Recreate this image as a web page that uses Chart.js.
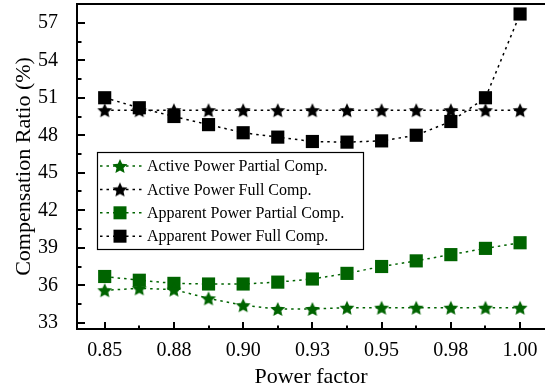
<!DOCTYPE html>
<html>
<head>
<meta charset="utf-8">
<script src="https://cdn.jsdelivr.net/npm/chart.js@4.4.1/dist/chart.umd.min.js"></script>
<style>
  html, body { margin: 0; padding: 0; background: #ffffff; overflow: hidden; }
  canvas { display: block; }
</style>
</head>
<body>
<canvas id="chart" width="545" height="392"></canvas>
<script>
// Power factor sweep and compensation ratios (%)
const powerFactor = [0.85, 0.8625, 0.875, 0.8875, 0.9, 0.9125, 0.925, 0.9375, 0.95, 0.9625, 0.975, 0.9875, 1.0];
const activePartial = [35.6, 35.75, 35.65, 34.95, 34.4, 34.1, 34.1, 34.2, 34.2, 34.2, 34.2, 34.2, 34.2];
const activeFull = [50.0, 50.0, 50.0, 50.0, 50.0, 50.0, 50.0, 50.0, 50.0, 50.0, 50.0, 50.0, 50.0];
const apparentPartial = [36.7, 36.4, 36.15, 36.1, 36.1, 36.25, 36.5, 36.95, 37.5, 37.95, 38.45, 38.95, 39.4];
const apparentFull = [51.0, 50.2, 49.5, 48.85, 48.2, 47.85, 47.5, 47.45, 47.55, 48.0, 49.1, 51.0, 57.7];

const seriesNames = [
  'Active Power Partial Comp.',
  'Active Power Full Comp.',
  'Apparent Power Partial Comp.',
  'Apparent Power Full Comp.'
];

const xTickValues = [0.85, 0.875, 0.9, 0.925, 0.95, 0.975, 1.0];
const xTickLabels = ['0.85', '0.88', '0.90', '0.93', '0.95', '0.98', '1.00'];
const yTickValues = [33, 36, 39, 42, 45, 48, 51, 54, 57];

const GREEN = '#006400';
const BLACK = '#000000';
const SERIF = "'Liberation Serif', 'Times New Roman', serif";

// Filled five-point star used as a point marker
function makeStar(color, R) {
  const size = Math.ceil(2 * R + 2);
  const c = document.createElement('canvas');
  c.width = size; c.height = size;
  const g = c.getContext('2d');
  const cx = size / 2, cy = size / 2 + R * 0.1;
  const r = R * 0.47;
  g.beginPath();
  for (let i = 0; i < 10; i++) {
    const rad = i % 2 === 0 ? R : r;
    const a = -Math.PI / 2 + i * Math.PI / 5;
    const px = cx + rad * Math.cos(a), py = cy + rad * Math.sin(a);
    if (i === 0) g.moveTo(px, py); else g.lineTo(px, py);
  }
  g.closePath();
  g.fillStyle = color;
  g.fill();
  return c;
}

const greenStar = makeStar(GREEN, 7.8);
const blackStar = makeStar(BLACK, 7.8);

function pairs(values) {
  return powerFactor.map((x, i) => ({ x: x, y: values[i] }));
}

function series(label, values, color, marker) {
  return {
    label: label,
    data: pairs(values),
    borderColor: color,
    backgroundColor: color,
    borderWidth: 1.5,
    borderDash: [2.5, 4],
    pointStyle: marker,
    pointRadius: 9.3,
    pointHoverRadius: 9.3,
    pointBorderWidth: 0,
    pointBackgroundColor: color,
    pointBorderColor: color,
    fill: false,
    tension: 0
  };
}

// Inward major/minor ticks plus the top frame line
const frameTicks = {
  id: 'frameTicks',
  afterDraw(chart) {
    const { ctx, chartArea: ca } = chart;
    const xs = chart.scales.x, ys = chart.scales.y;
    ctx.save();
    ctx.setLineDash([]);
    ctx.strokeStyle = '#000';
    ctx.lineWidth = 2;
    ctx.beginPath();
    yTickValues.forEach(v => {
      const py = Math.round(ys.getPixelForValue(v));
      ctx.moveTo(ca.left, py); ctx.lineTo(ca.left + 8, py);
      const m = v + 1.5;
      if (m < ys.max) {
        const pm = Math.round(ys.getPixelForValue(m));
        ctx.moveTo(ca.left, pm); ctx.lineTo(ca.left + 4.5, pm);
      }
    });
    xTickValues.forEach(v => {
      const px = Math.round(xs.getPixelForValue(v));
      ctx.moveTo(px, ca.bottom); ctx.lineTo(px, ca.bottom - 7);
      const m = v + 0.0125;
      if (m < xs.max) {
        const pm = Math.round(xs.getPixelForValue(m));
        ctx.moveTo(pm, ca.bottom); ctx.lineTo(pm, ca.bottom - 3.5);
      }
    });
    ctx.stroke();

    // top edge of the frame
    ctx.beginPath();
    ctx.lineWidth = 2.2;
    ctx.moveTo(ca.left - 1, ca.top);
    ctx.lineTo(chart.width, ca.top);
    ctx.stroke();
    ctx.restore();
  }
};

// Boxed legend inside the plot area
const legendBox = {
  id: 'legendBox',
  afterDraw(chart) {
    const { ctx, chartArea: ca } = chart;
    const left = ca.left + 20, top = ca.top + 148, w = 266, h = 97;
    const rowH = 23.4, firstRow = top + 14;
    ctx.save();
    ctx.fillStyle = '#fff';
    ctx.fillRect(left, top, w, h);
    ctx.strokeStyle = '#000';
    ctx.lineWidth = 1.2;
    ctx.strokeRect(left + 0.5, top + 0.5, w, h);
    chart.data.datasets.forEach((ds, i) => {
      const cy = firstRow + i * rowH;
      ctx.save();
      ctx.strokeStyle = ds.borderColor;
      ctx.lineWidth = 1.5;
      ctx.setLineDash([2.5, 4]);
      ctx.beginPath();
      ctx.moveTo(left + 3, cy);
      ctx.lineTo(left + 47, cy);
      ctx.stroke();
      ctx.restore();
      const mx = left + 23;
      if (ds.pointStyle === 'rect') {
        ctx.fillStyle = ds.pointBackgroundColor;
        ctx.fillRect(mx - 6.5, cy - 6.5, 13, 13);
      } else {
        const img = ds.pointStyle;
        ctx.drawImage(img, mx - img.width / 2, cy - img.height / 2);
      }
      ctx.fillStyle = '#000';
      ctx.font = '16px ' + SERIF;
      ctx.textBaseline = 'middle';
      ctx.textAlign = 'left';
      ctx.fillText(ds.label, left + 50, cy + 1);
    });
    ctx.restore();
  }
};

new Chart(document.getElementById('chart'), {
  type: 'line',
  data: {
    datasets: [
      series(seriesNames[0], activePartial, GREEN, greenStar),
      series(seriesNames[1], activeFull, BLACK, blackStar),
      series(seriesNames[2], apparentPartial, GREEN, 'rect'),
      series(seriesNames[3], apparentFull, BLACK, 'rect')
    ]
  },
  options: {
    responsive: false,
    animation: false,
    devicePixelRatio: 1,
    layout: { autoPadding: false, padding: { top: 4, right: 0, left: 0, bottom: 0 } },
    plugins: {
      legend: { display: false },
      tooltip: { enabled: false }
    },
    scales: {
      x: {
        type: 'linear',
        min: 0.84,
        max: 1.009,
        afterBuildTicks(scale) {
          scale.ticks = xTickValues.map(v => ({ value: v }));
        },
        afterFit(scale) {
          scale.height = 63;
          scale.paddingLeft = 0;
          scale.paddingRight = 0;
        },
        ticks: {
          autoSkip: false,
          maxRotation: 0,
          padding: 10,
          color: '#000',
          font: { family: SERIF, size: 20 },
          callback(value) {
            const i = xTickValues.findIndex(v => Math.abs(v - value) < 1e-9);
            return i >= 0 ? xTickLabels[i] : '';
          }
        },
        grid: { drawOnChartArea: false, drawTicks: false },
        border: { display: true, color: '#000', width: 2 },
        title: {
          display: true,
          text: 'Power factor',
          color: '#000',
          font: { family: SERIF, size: 22 },
          padding: { top: 0, bottom: 2 }
        }
      },
      y: {
        type: 'linear',
        min: 32.5,
        max: 58.5,
        afterBuildTicks(scale) {
          scale.ticks = yTickValues.map(v => ({ value: v }));
        },
        afterFit(scale) {
          scale.width = 77;
          scale.paddingTop = 0;
          scale.paddingBottom = 0;
        },
        ticks: {
          autoSkip: false,
          padding: 19,
          color: '#000',
          font: { family: SERIF, size: 20 },
          callback(value) { return String(value); }
        },
        grid: { drawOnChartArea: false, drawTicks: false },
        border: { display: true, color: '#000', width: 2 },
        title: {
          display: true,
          text: 'Compensation Ratio (%)',
          color: '#000',
          font: { family: SERIF, size: 22 },
          padding: { top: 11, bottom: 0 }
        }
      }
    }
  },
  plugins: [frameTicks, legendBox]
});
</script>
</body>
</html>
